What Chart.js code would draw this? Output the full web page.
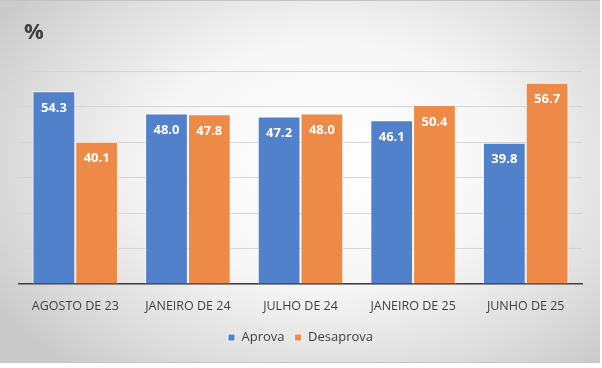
<!DOCTYPE html>
<html>
<head>
<meta charset="utf-8">
<script src="https://cdn.jsdelivr.net/npm/chart.js@4/dist/chart.umd.min.js"></script>
<style>
  html, body { margin: 0; padding: 0; background: #fff; }
  #box {
    position: absolute; left: 0; top: 0; width: 600px; height: 361px;
    border-top: 1px solid #c4c4c4; border-bottom: 1px solid #c4c4c4;
    background: radial-gradient(ellipse 65% 75% at 55% 45%, #ffffff 0%, #f6f6f6 45%, #d8d8d8 85%, #cacaca 100%);
  }
  #wrap { position: absolute; left: 0; top: 0; width: 602px; height: 368px; }
</style>
</head>
<body>
<div id="box"></div>
<div id="wrap"><canvas id="chart" width="602" height="368"></canvas></div>
<script>
const categories = ["AGOSTO DE 23", "JANEIRO DE 24", "JULHO DE 24", "JANEIRO DE 25", "JUNHO DE 25"];
const aprova = [54.3, 48.0, 47.2, 46.1, 39.8];
const desaprova = [40.1, 47.8, 48.0, 50.4, 56.7];
const yTicks = [0, 10, 20, 30, 40, 50, 60];

const ctx = document.getElementById("chart").getContext("2d");

// value labels inside the top of each bar, plus the "%" heading
const barLabels = {
  id: "barLabels",
  afterDatasetsDraw(chart) {
    const c = chart.ctx;
    c.save();
    c.font = "bold 13px 'Open Sans'";
    c.fillStyle = "#ffffff";
    c.textAlign = "center";
    c.textBaseline = "middle";
    chart.data.datasets.forEach((ds, i) => {
      chart.getDatasetMeta(i).data.forEach((bar, j) => {
        c.fillText(ds.data[j].toFixed(1), bar.x, bar.y + 17);
      });
    });
    c.fillStyle = "#404040";
    c.font = "bold 22px 'Open Sans'";
    c.textAlign = "left";
    c.fillText("%", 24, 33);
    c.restore();
  }
};

new Chart(ctx, {
  type: "bar",
  data: {
    labels: categories,
    datasets: [
      {
        label: "Aprova",
        data: aprova,
        backgroundColor: "#5281cc",
        borderColor: "rgba(255,255,255,0.85)",
        borderWidth: 1,
        borderSkipped: "bottom",
      },
      {
        label: "Desaprova",
        data: desaprova,
        backgroundColor: "#ee8a48",
        borderColor: "rgba(255,255,255,0.85)",
        borderWidth: 1,
        borderSkipped: "bottom",
      },
    ],
  },
  options: {
    responsive: false,
    animation: false,
    layout: { padding: { left: 19, right: 20, top: 71, bottom: 14 } },
    datasets: { bar: { categoryPercentage: 0.76, barPercentage: 1 } },
    scales: {
      x: {
        grid: { display: false },
        border: { color: "#3f3f3f", width: 1.5 },
        ticks: { color: "#404040", font: { family: "Open Sans", size: 12.5 }, padding: 7 },
      },
      y: {
        min: 0,
        max: 60,
        afterBuildTicks: (axis) => { axis.ticks = yTicks.map((v) => ({ value: v })); },
        grid: { color: "#d6d6d6", lineWidth: 1, drawTicks: false },
        border: { display: false },
        ticks: { display: false },
      },
    },
    plugins: {
      legend: {
        position: "bottom",
        labels: {
          color: "#404040",
          font: { family: "Open Sans", size: 13 },
          boxWidth: 7,
          boxHeight: 7,
          padding: 10,
        },
      },
      tooltip: { enabled: false },
    },
  },
  plugins: [barLabels],
});
</script>
</body>
</html>
